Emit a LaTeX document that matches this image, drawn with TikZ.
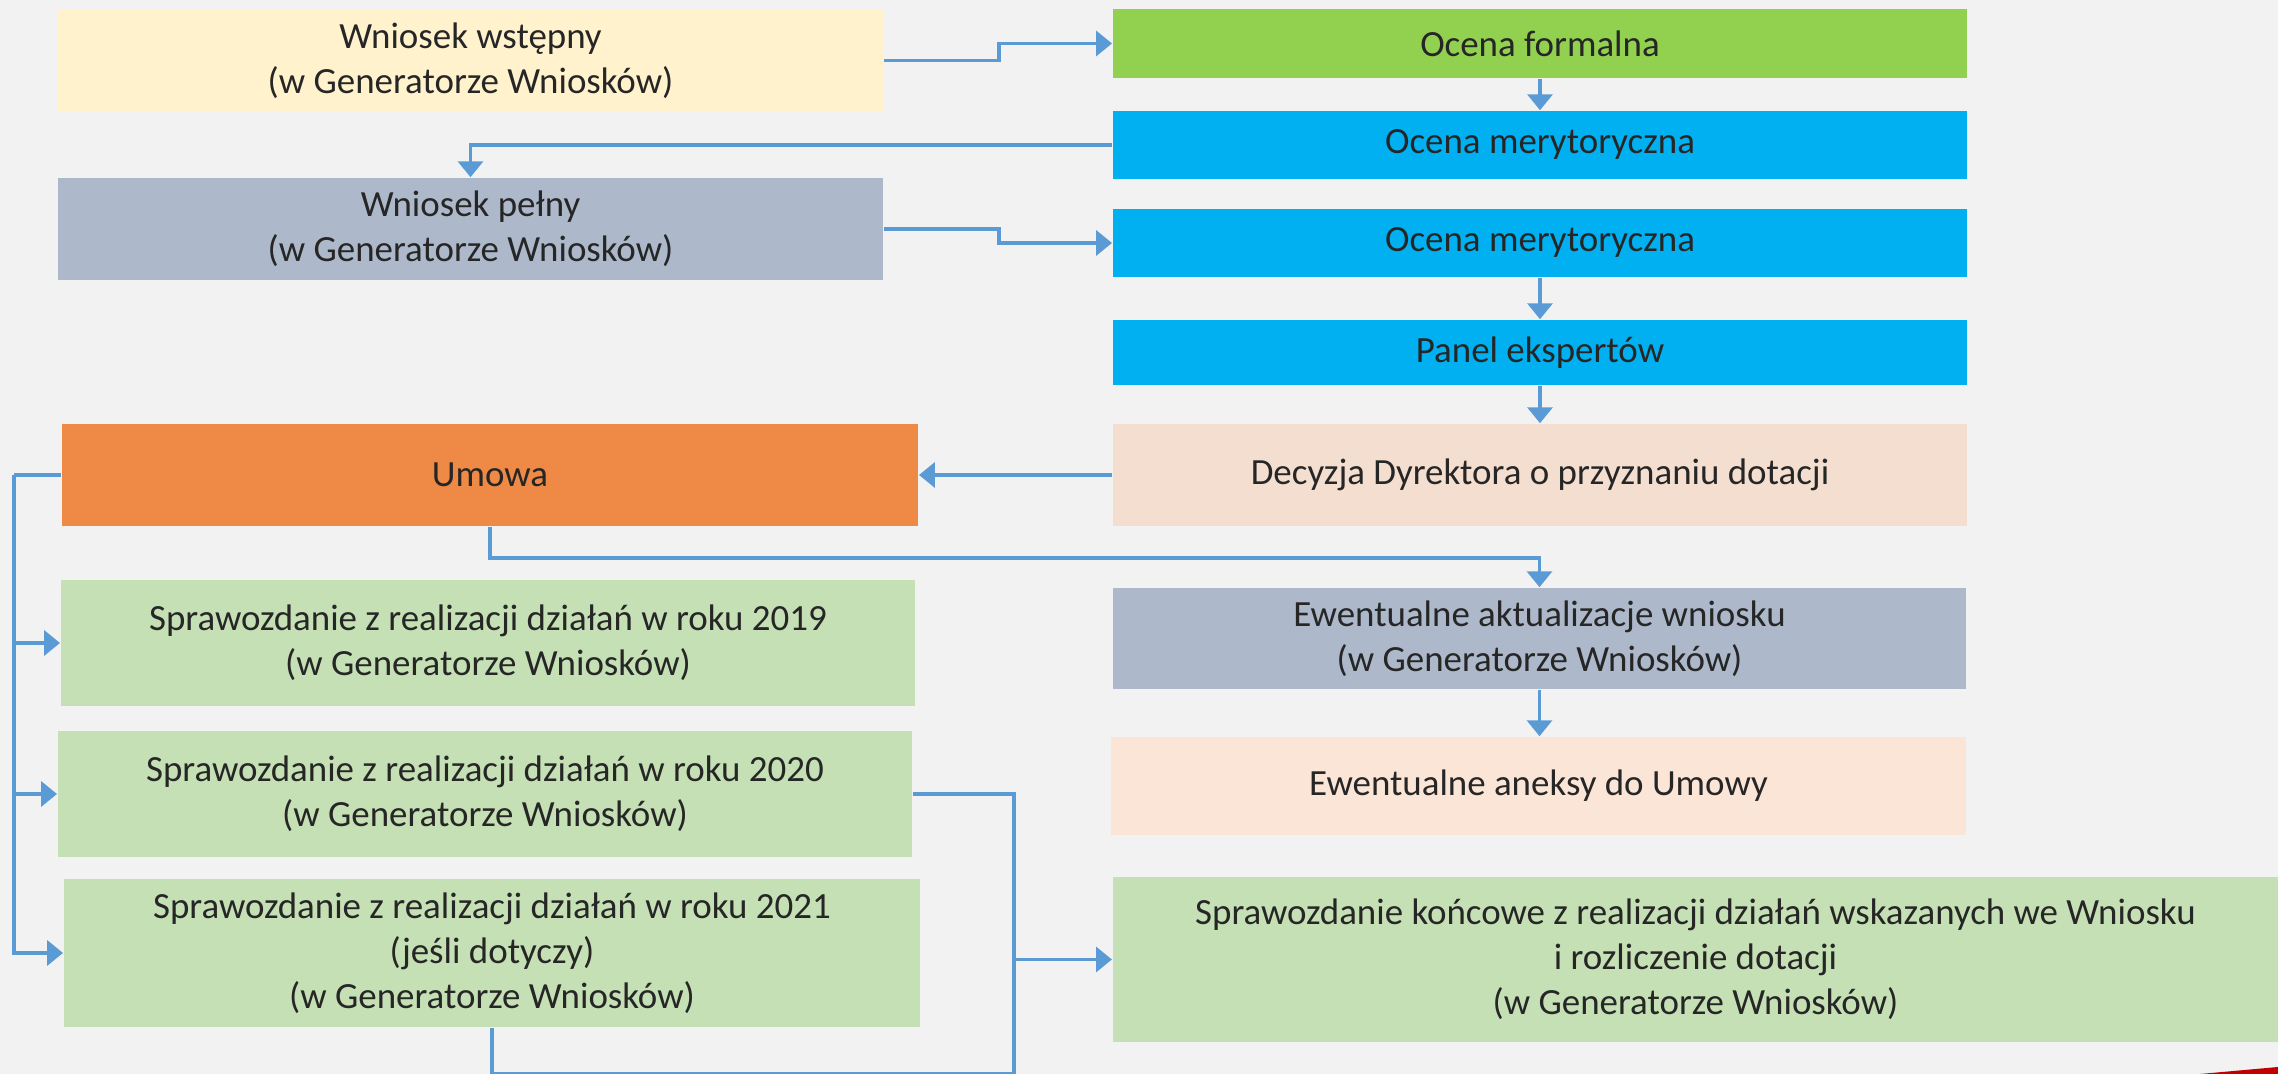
\documentclass[tikz,border=0pt]{standalone}
\usepackage{fontspec}
\setmainfont{Carlito}
\usetikzlibrary{arrows.meta}

\definecolor{bgGrey}{HTML}{F2F2F2}
\definecolor{cWst}{HTML}{FFF2CC}
\definecolor{cFormal}{HTML}{92D050}
\definecolor{cBlue}{HTML}{00B0F0}
\definecolor{cSlate}{HTML}{ADB9CA}
\definecolor{cDec}{HTML}{F4DECF}
\definecolor{cAneks}{HTML}{FBE5D6}
\definecolor{cUmowa}{HTML}{EE8A45}
\definecolor{cGreen}{HTML}{C5E0B4}
\definecolor{cLink}{HTML}{5B9BD5}
\definecolor{cText}{HTML}{262626}
\definecolor{cRed}{HTML}{C00000}

\begin{document}
\begin{tikzpicture}[x=0.01cm, y=-0.01cm,
    box/.style={rectangle, inner sep=0pt, align=center, text=cText,
      font=\fontsize{10.5}{12.8}\selectfont},
    conn/.style={draw=cLink, line width=1.1pt, -{Triangle[length=4.5pt,width=7pt]}},
    link/.style={draw=cLink, line width=1.1pt}]
    \fill[bgGrey] (0,0) rectangle (2278,1074);
    \useasboundingbox (0,0) rectangle (2278,1074);

    % left column
    \node[box, fill=cWst, minimum width=8.25cm, minimum height=1.03cm] (wst) at (470.5,60.5) {Wniosek wstępny\\(w Generatorze Wniosków)};
    \node[box, fill=cSlate, minimum width=8.25cm, minimum height=1.02cm] (pelny) at (470.5,229) {Wniosek pełny\\(w Generatorze Wniosków)};
    \node[box, fill=cUmowa, minimum width=8.56cm, minimum height=1.02cm] (umowa) at (490,475) {Umowa};
    \node[box, fill=cGreen, minimum width=8.54cm, minimum height=1.26cm] (s2019) at (488,643) {Sprawozdanie z realizacji działań w roku 2019\\(w Generatorze Wniosków)};
    \node[box, fill=cGreen, minimum width=8.54cm, minimum height=1.26cm] (s2020) at (485,794) {Sprawozdanie z realizacji działań w roku 2020\\(w Generatorze Wniosków)};
    \node[box, fill=cGreen, minimum width=8.56cm, minimum height=1.48cm] (s2021) at (492,953) {Sprawozdanie z realizacji działań w roku 2021\\(jeśli dotyczy)\\(w Generatorze Wniosków)};

    % right column
    \node[box, fill=cFormal, minimum width=8.54cm, minimum height=0.69cm] (formal) at (1540,43.5) {Ocena formalna};
    \node[box, fill=cBlue, minimum width=8.54cm, minimum height=0.68cm] (mer1) at (1540,145) {Ocena merytoryczna};
    \node[box, fill=cBlue, minimum width=8.54cm, minimum height=0.68cm] (mer2) at (1540,243) {Ocena merytoryczna};
    \node[box, fill=cBlue, minimum width=8.54cm, minimum height=0.65cm] (panel) at (1540,352.5) {Panel ekspertów};
    \node[box, fill=cDec, minimum width=8.54cm, minimum height=1.02cm] (dec) at (1540,475) {Decyzja Dyrektora o przyznaniu dotacji};
    \node[box, fill=cSlate, minimum width=8.53cm, minimum height=1.01cm] (aktual) at (1539.5,638.5) {Ewentualne aktualizacje wniosku\\(w Generatorze Wniosków)};
    \node[box, fill=cAneks, minimum width=8.55cm, minimum height=0.98cm] (aneks) at (1538.5,786) {Ewentualne aneksy do Umowy};
    \node[box, fill=cGreen, minimum width=11.65cm, minimum height=1.65cm] (final) at (1695.5,959.5) {Sprawozdanie końcowe z realizacji działań wskazanych we Wniosku\\i rozliczenie dotacji\\(w Generatorze Wniosków)};

    % bus points
    \coordinate (busL) at (14,475);
    \coordinate (busR) at (1014,1074);

    \draw[conn] (wst.east) -- ++(115,0) |- (formal.west);
    \draw[conn] (formal.south) -- (mer1.north);
    \draw[conn] (mer1.west) -| (pelny.north);
    \draw[conn] (pelny.east) -- ++(115,0) |- (mer2.west);
    \draw[conn] (mer2.south) -- (panel.north);
    \draw[conn] (panel.south) -- (dec.north);
    \draw[conn] (dec.west) -- (umowa.east);
    \draw[conn] (umowa.south) -- ++(0,31) -| (aktual.north);
    \draw[conn] (aktual.south) -- (aktual.south |- aneks.north);

    \draw[link] (umowa.west) -- (busL);
    \draw[conn] (busL) |- (s2021.west);
    \draw[conn] (busL |- s2019.west) -- (s2019.west);
    \draw[conn] (busL |- s2020.west) -- (s2020.west);

    \draw[link] (s2020.east) -| (busR) -| (s2021.south);
    \draw[conn] (busR |- final.west) -- (final.west);

    \fill[cRed] (2200,1074) -- (2278,1067) -- (2278,1074) -- cycle;
\end{tikzpicture}
\end{document}
